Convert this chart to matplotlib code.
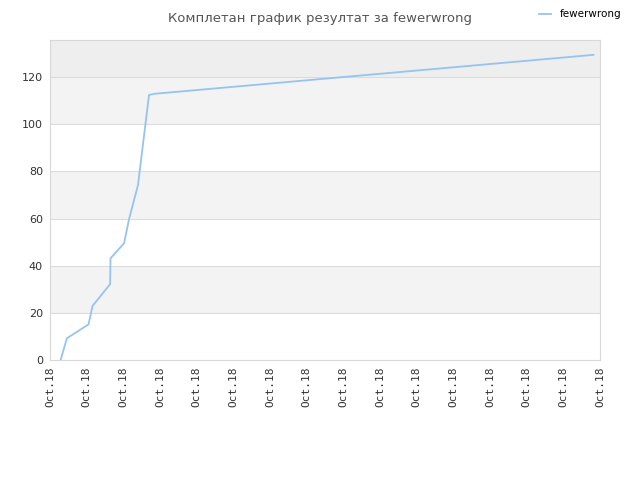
import matplotlib
matplotlib.use("Agg")
import matplotlib.pyplot as plt

# Dane wykresu (pozycje na osi X w jednostkach podziałek)
x_pos = [0.29, 0.46, 1.05, 1.16, 1.64, 1.65, 2.02, 2.16, 2.40, 2.70, 2.86, 14.82]
scores = [0, 9.2, 15.1, 22.9, 32.2, 43.1, 49.5, 60.0, 74.2, 112.4, 112.9, 129.4]
tick_labels = ["Oct.18"] * 16
y_ticks = [0, 20, 40, 60, 80, 100, 120]
series_name = "fewerwrong"
title = "Комплетан график резултат за fewerwrong"

fig = plt.figure(figsize=(6.4, 4.8), dpi=100)
ax = fig.add_axes([50 / 640, 1 - 360 / 480, 550 / 640, 320 / 480])

y_max = 135.7
ax.set_xlim(0, 15)
ax.set_ylim(0, y_max)

# Pasy tła
bands = [(0, 20, "white"), (20, 40, "#f3f3f3"), (40, 60, "white"),
         (60, 80, "#f3f3f3"), (80, 100, "white"), (100, 120, "#f3f3f3"),
         (120, y_max, "#eeeeee")]
for lo, hi, c in bands:
    ax.axhspan(lo, hi, color=c, zorder=0, lw=0)
for yt in y_ticks[1:]:
    ax.axhline(yt, color="#dcdcdc", lw=0.8, zorder=1)

ax.plot(x_pos, scores, color="#96c3f0", lw=1.3, zorder=3, label=series_name)

ax.set_xticks(range(16))
ax.set_xticklabels(tick_labels, rotation=90, fontsize=8, color="#333333",
                   family="DejaVu Sans Mono")
ax.set_yticks(y_ticks)
ax.set_yticklabels([str(v) for v in y_ticks], fontsize=8, color="#333333")
ax.tick_params(length=0, pad=5)

for s in ax.spines.values():
    s.set_color("#d8d8d8")
    s.set_linewidth(0.8)

fig.text(0.5, 0.975, title, ha="center", va="top", fontsize=9.5, color="#555555")
fig.legend(loc="upper right", bbox_to_anchor=(0.985, 1.0), frameon=False, fontsize=7.5,
           handlelength=1.2)

fig.savefig("out.png", dpi=100)
